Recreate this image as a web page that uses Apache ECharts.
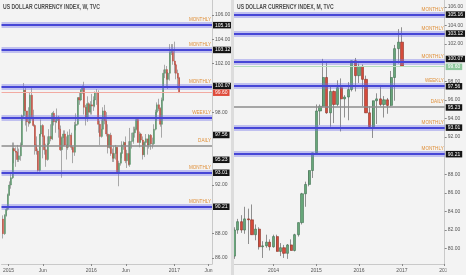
<!DOCTYPE html>
<html><head><meta charset="utf-8">
<script src="https://cdn.jsdelivr.net/npm/echarts@6/dist/echarts.min.js"></script>
<style>html,body{margin:0;padding:0;background:#f3f3f3}#c{width:466px;height:275px}</style>
</head><body><div id="c"></div><script>
// ---------- weekly (left) ----------
const wkStart = '2014-12-08';
const wkOpen  = [89.2,88.0,89.5,90.0,91.2,92.0,92.6,95.0,94.8,94.7,94.1,94.4,95.3,97.7,99.8,98.1,97.2,97.1,99.4,97.5,96.9,95.3,94.8,93.2,96.2,96.9,96.0,94.9,94.1,95.4,96.0,95.8,97.9,97.2,97.3,97.6,96.6,94.9,95.9,96.2,95.3,95.1,96.1,96.1,95.1,94.7,96.9,97.0,99.2,99.0,99.8,100.0,98.4,97.6,98.7,98.0,98.6,98.5,99.0,99.6,99.6,97.0,96.0,96.6,98.1,97.3,96.2,95.1,96.1,94.6,94.2,94.6,95.1,93.0,93.8,94.6,95.3,95.5,94.0,94.6,93.7,95.6,95.6,96.3,96.6,97.4,95.5,96.2,95.7,94.5,95.5,95.8,95.3,96.1,95.4,95.4,96.6,98.0,98.6,98.3,97.0,99.0,101.2,101.5,100.7,101.2,102.9,103.0,102.2,101.9,101.2,100.8];
const wkHigh  = [89.5,89.6,90.2,91.3,92.3,92.9,95.5,95.5,95.1,95.3,95.0,95.5,97.8,100.4,100.1,98.1,98.4,99.6,100.0,98.2,97.0,96.0,95.0,96.2,97.4,97.0,96.1,95.4,96.0,96.6,97.0,98.0,98.1,97.5,98.3,97.7,96.9,96.0,96.5,96.5,96.0,96.4,96.6,96.3,95.2,97.2,97.9,99.2,99.6,99.9,100.2,100.5,98.6,99.3,98.8,98.9,99.5,99.3,99.7,99.9,99.8,97.3,97.4,98.4,98.6,98.0,97.0,96.2,96.3,95.0,95.2,95.3,95.1,94.0,94.7,95.6,95.6,96.0,94.9,95.6,96.7,96.3,96.8,96.8,97.6,97.5,96.4,96.3,96.0,95.6,96.2,95.8,96.2,96.2,95.9,97.0,98.2,98.8,99.1,98.4,99.2,101.5,101.9,101.8,101.3,103.6,103.6,103.6,103.8,102.0,101.5,100.9];
const wkLow   = [87.6,87.9,89.4,89.9,91.1,91.7,92.5,93.8,93.5,93.9,93.9,94.0,95.2,97.6,96.9,96.4,96.8,97.0,97.4,96.8,94.5,94.5,93.1,93.1,96.0,94.2,94.5,93.5,94.0,95.3,95.6,95.7,96.9,96.3,97.1,95.9,94.8,92.6,95.2,95.2,94.1,94.9,95.2,94.9,93.8,94.4,96.5,96.9,98.6,98.9,99.5,97.8,96.9,97.2,97.6,97.8,97.8,98.1,98.4,98.6,96.3,95.3,95.9,96.6,97.0,96.0,94.6,95.0,94.4,93.9,93.9,94.1,93.0,91.9,93.6,94.2,94.9,93.8,93.4,93.6,93.5,95.0,95.4,95.9,96.5,95.5,95.1,95.5,94.1,94.3,95.2,94.5,95.0,94.9,95.0,95.3,96.5,97.3,98.1,96.8,95.9,98.9,100.8,100.1,99.9,100.6,102.7,101.9,101.2,100.7,99.9,99.6];
const wkClose = [88.0,89.5,90.0,91.2,92.0,92.6,95.0,94.8,94.7,94.1,94.4,95.3,97.7,99.8,98.1,97.2,97.1,99.4,97.5,96.9,95.3,94.8,93.2,96.2,96.9,96.0,94.9,94.1,95.4,96.0,95.8,97.9,97.2,97.3,97.6,96.6,94.9,95.9,96.2,95.3,95.1,96.1,96.1,95.1,94.7,96.9,97.0,99.2,99.0,99.8,100.0,98.4,97.6,98.7,98.0,98.6,98.5,99.0,99.6,99.6,97.0,96.0,96.6,98.1,97.3,96.2,95.1,96.1,94.6,94.2,94.6,95.1,93.0,93.8,94.6,95.3,95.5,94.0,94.6,93.7,95.6,95.6,96.3,96.6,97.4,95.5,96.2,95.7,94.5,95.5,95.8,95.3,96.1,95.4,95.4,96.6,98.0,98.6,98.3,97.0,99.0,101.2,101.5,100.7,101.2,102.9,103.0,102.2,101.9,101.2,100.8,99.6];

// ---------- monthly (right) ----------
const moStart = '2013-02-01';
const moOpen  = [79.2,82.0,82.9,82.0,83.2,83.1,81.5,82.1,80.2,80.3,80.7,80.2,81.3,79.7,80.1,79.5,80.4,79.8,81.5,82.8,85.9,86.9,88.4,90.3,94.8,95.3,98.4,94.6,96.9,95.5,97.3,96.1,96.3,97.1,100.2,98.6,99.6,98.2,94.6,93.1,95.9,96.1,95.5,96.0,95.4,98.4,101.5,102.2];
const moHigh  = [82.3,83.2,83.6,84.5,84.3,84.75,82.6,82.3,80.8,81.5,81.0,81.5,81.5,80.6,80.4,80.5,81.0,81.6,82.8,86.0,87.2,88.4,90.3,95.5,95.5,100.4,100.0,97.4,97.0,98.1,98.3,96.5,97.9,100.2,100.5,99.9,99.8,98.6,95.3,95.9,96.7,97.6,96.4,96.2,99.1,101.9,103.6,103.8];
const moLow   = [78.9,81.6,81.7,81.6,80.5,81.5,80.9,79.9,79.0,80.1,79.8,80.1,79.7,79.2,79.0,78.9,79.8,79.7,81.3,82.6,84.5,86.7,87.6,90.1,93.3,95.2,94.5,93.1,93.5,95.3,92.6,94.1,93.8,96.9,96.9,97.8,95.3,94.6,93.0,91.9,93.4,95.3,94.1,94.5,95.3,95.9,99.9,99.6];
const moClose = [82.0,82.9,82.0,83.2,83.1,81.5,82.1,80.2,80.3,80.7,80.2,81.3,79.7,80.1,79.5,80.4,79.8,81.5,82.8,85.9,86.9,88.4,90.3,94.8,95.3,98.4,94.6,96.9,95.5,97.3,96.1,96.3,97.1,100.2,98.6,99.6,98.2,94.6,93.1,95.9,96.1,95.5,96.0,95.4,98.4,101.5,102.2,99.6];

// ---------- levels ----------
const levelValues = [105.16, 103.12, 100.07, 97.56, 95.23, 93.01, 90.21];
const levelTags   = ['MONTHLY','MONTHLY','MONTHLY','WEEKLY','DAILY','MONTHLY','MONTHLY'];
const lastPrice = 99.60;

// ---------- ticks ----------
const leftPriceTicks  = [86, 88, 92, 98, 102, 104, 106];
const rightPriceTicks = [80, 82, 84, 86, 88, 92, 94, 96, 98, 102, 104, 106];
const leftDateTicks   = ['2015-01-01','2015-06-01','2016-01-01','2016-06-01','2017-01-01','2017-06-01'];
const leftDateLabels  = ['2015','Jun','2016','Jun','2017','Jun'];
const rightDateTicks  = ['2014-01-01','2015-01-01','2016-01-01','2017-01-01','2018-01-01'];
const rightDateLabels = ['2014','2015','2016','2017','2018'];

function ts(s){const p=s.split('-').map(Number);return new Date(p[0],p[1]-1,p[2]).getTime();}
function weekDates(n){const p=wkStart.split('-').map(Number);const a=[];for(let i=0;i<n;i++)a.push(new Date(p[0],p[1]-1,p[2]+7*i).getTime());return a;}
function monthDates(n){const p=moStart.split('-').map(Number);const a=[];for(let i=0;i<n;i++)a.push(new Date(p[0],p[1]-1+i,1).getTime());return a;}

const wkT = weekDates(wkOpen.length);
const moT = monthDates(moOpen.length);
const wickL = wkT.map((t,i)=>[t,wkOpen[i],wkClose[i],wkLow[i],wkHigh[i]]);
const bodyL = wkT.map((t,i)=>[t,wkOpen[i],wkClose[i],Math.min(wkOpen[i],wkClose[i]),Math.max(wkOpen[i],wkClose[i])]);
const wickR = moT.map((t,i)=>[t,moOpen[i],moClose[i],moLow[i],moHigh[i]]);
const bodyR = moT.map((t,i)=>[t,moOpen[i],moClose[i],Math.min(moOpen[i],moClose[i]),Math.max(moOpen[i],moClose[i])]);

const TAG = '#e0903a';
function marks(boxOffsets, lastColor, lastBox){
  const d = [];
  levelValues.forEach((v,i)=>{
    const daily = levelTags[i]==='DAILY';
    d.push({yAxis:v, lineStyle:{type:'solid', color: daily?'rgba(0,0,0,0)':'rgba(110,110,235,0.38)', width: daily?0:6},
      label:{show:true, position:'insideEndTop', formatter: levelTags[i], color:TAG, fontSize:4.6, distance:[1,2.5], fontFamily:'Liberation Sans'}});
    d.push({yAxis:v, lineStyle:{type:'solid', color: daily?'#8c8c8c':'#4646d6', width: daily?1.6:2.2},
      label:{show:true, position:'end', formatter: v.toFixed(2), color:'#fff', backgroundColor:'#151515', fontSize:5, padding:[1,2,0.5,2], distance:1, offset:[0,boxOffsets[i]], fontFamily:'Liberation Sans'}});
  });
  d.push({yAxis:lastPrice, lineStyle:{type:'solid', color:lastColor, width:1.2},
    label:{show:true, position:'end', formatter: lastPrice.toFixed(2), color:'#fff', backgroundColor:lastBox, fontSize:5, padding:[1,2,0.5,2], distance:1, offset:[0,boxOffsets[7]], fontFamily:'Liberation Sans'}});
  return {symbol:'none', silent:true, animation:false, data:d};
}

function yAxis(idx, min, max, ticks){
  return {type:'value', gridIndex:idx, position:'right', min:min, max:max,
    axisLine:{show:true, lineStyle:{color:'#c9c9c9'}},
    axisTick:{show:true, length:2, customValues:ticks, lineStyle:{color:'#888'}},
    axisLabel:{customValues:ticks, fontSize:5, color:'#555', margin:3, fontFamily:'Liberation Sans', formatter:v=>Number(v).toFixed(2)},
    splitLine:{show:false}};
}
function xAxis(idx, min, max, tickStr, labels){
  const vals = tickStr.map(ts);
  return {type:'value', gridIndex:idx, min:ts(min), max:ts(max),
    axisLine:{show:true, lineStyle:{color:'#c9c9c9'}},
    axisTick:{show:true, length:2, customValues:vals, lineStyle:{color:'#888'}},
    axisLabel:{customValues:vals, fontSize:5, color:'#555', margin:4, fontFamily:'Liberation Sans', hideOverlap:false, showMaxLabel:true, showMinLabel:true,
      formatter:v=>{let b=0,bd=Infinity;vals.forEach((x,i)=>{const dd=Math.abs(x-v);if(dd<bd){bd=dd;b=i;}});return labels[b];}},
    splitLine:{show:false}};
}

const option = {
  backgroundColor:'#f3f3f3',
  animation:false,
  grid:[{left:0, top:0, width:212, height:264}, {left:234, top:0, width:212, height:264}],
  xAxis:[xAxis(0,'2014-12-01','2017-06-16',leftDateTicks,leftDateLabels), xAxis(1,'2013-01-29','2018-01-01',rightDateTicks,rightDateLabels)],
  yAxis:[yAxis(0,85.5,107.23,leftPriceTicks), yAxis(1,78.35,106.73,rightPriceTicks)],
  series:[
    {type:'candlestick', xAxisIndex:0, yAxisIndex:0, encode:{x:0,y:[1,2,3,4]}, data:wickL, barWidth:0.4, silent:true,
      itemStyle:{color:'#a8a8a8', color0:'#a8a8a8', borderColor:'#a8a8a8', borderColor0:'#a8a8a8', borderWidth:1}},
    {type:'candlestick', xAxisIndex:0, yAxisIndex:0, encode:{x:0,y:[1,2,3,4]}, data:bodyL, barWidth:1.5, clip:false, silent:true,
      itemStyle:{color:'#5a9c6c', color0:'#d4483a', borderColor:'#4f8a5f', borderColor0:'#b8402f', borderWidth:0.4},
      markLine: marks([0,0,-1,17.5,14,0,0,0], '#f2aaa2', '#df4b3b')},
    {type:'candlestick', xAxisIndex:1, yAxisIndex:1, encode:{x:0,y:[1,2,3,4]}, data:wickR, barWidth:0.4, silent:true,
      itemStyle:{color:'#8f8f8f', color0:'#8f8f8f', borderColor:'#8f8f8f', borderColor0:'#8f8f8f', borderWidth:1}},
    {type:'candlestick', xAxisIndex:1, yAxisIndex:1, encode:{x:0,y:[1,2,3,4]}, data:bodyR, barWidth:2.7, clip:false, silent:true,
      itemStyle:{color:'#66a679', color0:'#d64b3b', borderColor:'#3f7050', borderColor0:'#8c3326', borderWidth:0.6},
      markLine: marks([0,0,-3,1,0.5,0,0.5,0.5], '#b5dcbc', '#8ec79c')}
  ],
  graphic:[
    {type:'text', x:3, y:4, scaleX:0.78, z:50, style:{text:'US DOLLAR CURRENCY INDEX, W, TVC', font:'bold 6.5px "Liberation Sans"', fill:'#4d4d4d'}},
    {type:'text', x:237, y:4, scaleX:0.78, z:50, style:{text:'US DOLLAR CURRENCY INDEX, M, TVC', font:'bold 6.5px "Liberation Sans"', fill:'#4d4d4d'}},
    {type:'rect', x:231, y:0, z:60, shape:{width:3, height:275}, style:{fill:'#dcdcdc'}},
    {type:'rect', x:446.5, y:265, z:60, shape:{width:20, height:10}, style:{fill:'#f3f3f3'}}
  ]
};
const chart = echarts.init(document.getElementById('c'), null, {renderer:'canvas'});
chart.setOption(option);
</script></body></html>
